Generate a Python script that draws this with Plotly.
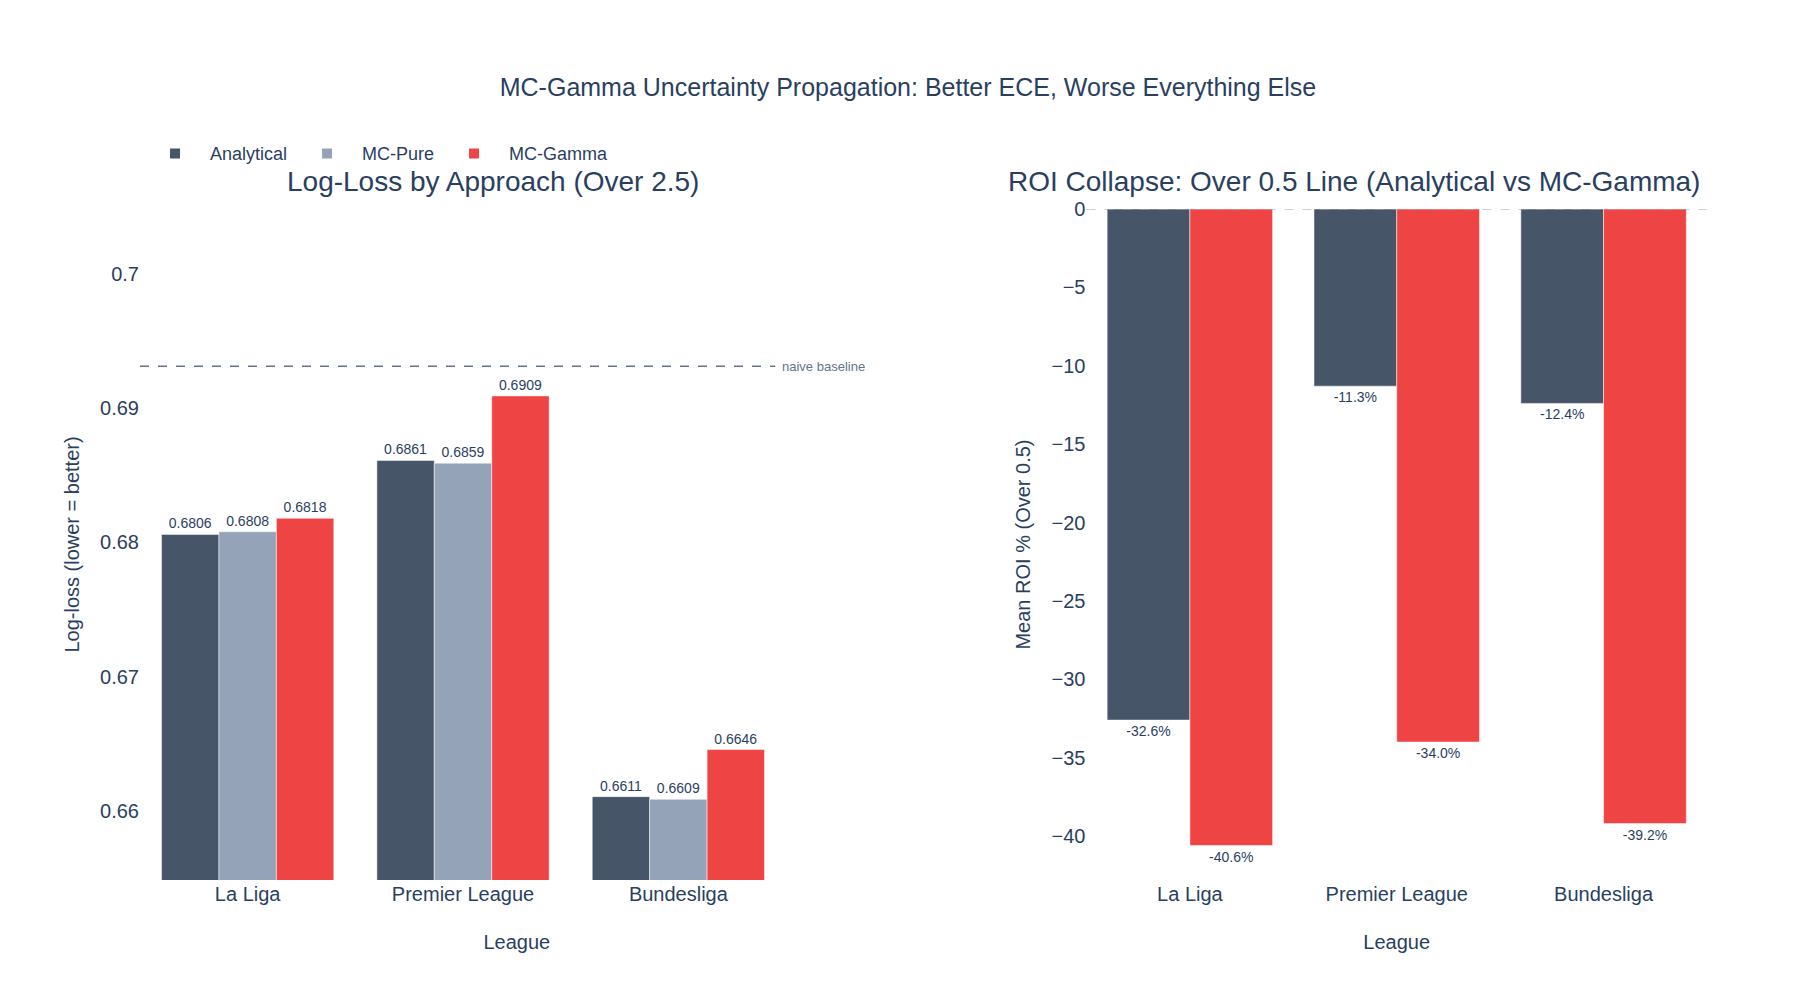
import plotly.graph_objects as go
from plotly.subplots import make_subplots

leagues = ["La Liga", "Premier League", "Bundesliga"]
logloss_analytical = [0.6806, 0.6861, 0.6611]
logloss_mcpure = [0.6808, 0.6859, 0.6609]
logloss_mcgamma = [0.6818, 0.6909, 0.6646]
roi_analytical = [-32.6, -11.3, -12.4]
roi_mcgamma = [-40.6, -34.0, -39.2]
naive_baseline = 0.6931

c_an, c_pure, c_gam = "#475569", "#94a3b8", "#ef4444"

t1 = "Log-Loss by Approach (Over 2.5)"
t2 = "ROI Collapse: Over 0.5 Line (Analytical vs MC-Gamma)"
fig = make_subplots(rows=1, cols=2, subplot_titles=[t1, t2])
fig.update_layout(xaxis=dict(domain=[0, 0.481]), xaxis2=dict(domain=[0.604, 1]))

for name, vals, col in [("Analytical", logloss_analytical, c_an),
                        ("MC-Pure", logloss_mcpure, c_pure),
                        ("MC-Gamma", logloss_mcgamma, c_gam)]:
    fig.add_trace(go.Bar(x=leagues, y=vals, name=name, marker_color=col,
                         text=[f"{v:.4f}" for v in vals], textposition="outside",
                         textfont=dict(size=14), cliponaxis=False), row=1, col=1)

for name, vals, col in [("Analytical", roi_analytical, c_an),
                        ("MC-Gamma", roi_mcgamma, c_gam)]:
    fig.add_trace(go.Bar(x=leagues, y=vals, name=name, marker_color=col, showlegend=False,
                         text=[f"{v:.1f}%" for v in vals], textposition="outside",
                         textfont=dict(size=14), cliponaxis=False), row=1, col=2)

fig.add_shape(type="line", xref="x", yref="y", x0=-0.5, x1=2.45,
              y0=naive_baseline, y1=naive_baseline,
              line=dict(dash="dash", color="#64748b", width=1.5))
fig.add_annotation(xref="x", yref="y", x=2.47, y=naive_baseline, text="naive baseline",
                   showarrow=False, xanchor="left", font=dict(size=13, color="#64748b"))
fig.add_hline(y=0, line_dash="dash", line_color="#94a3b8", line_width=1, row=1, col=2)

for t in (t1, t2):
    fig.update_annotations(selector=dict(text=t), font_size=28, yshift=10)

fig.update_xaxes(range=[-0.5, 3.0], row=1, col=1)
fig.update_yaxes(range=[0.6549, 0.7048], dtick=0.01, title_text="Log-loss (lower = better)",
                 showgrid=False, zeroline=False, tickfont_size=20, title_font_size=20, row=1, col=1)
fig.update_yaxes(range=[-42.8, 0], title_text="Mean ROI % (Over 0.5)",
                 showgrid=False, zeroline=False, tickfont_size=20, title_font_size=20, row=1, col=2)
fig.update_xaxes(title_text="League", title_standoff=30, showgrid=False,
                 tickfont_size=20, title_font_size=20)

fig.update_layout(
    template="plotly_white",
    width=1800, height=1000,
    barmode="group", bargap=0.2, bargroupgap=0,
    title=dict(text="MC-Gamma Uncertainty Propagation: Better ECE, Worse Everything Else",
               x=0.5, y=0.93, font=dict(size=25, color="#2a3f5f")),
    legend=dict(orientation="h", x=0.0, y=1.11, xanchor="left", font=dict(size=18),
                itemwidth=60, itemsizing="constant"),
    margin=dict(l=132, r=101, t=201, b=128),
    font=dict(family="Arial, Liberation Sans, sans-serif", color="#2a3f5f"),
)
fig.write_html("out.html")
